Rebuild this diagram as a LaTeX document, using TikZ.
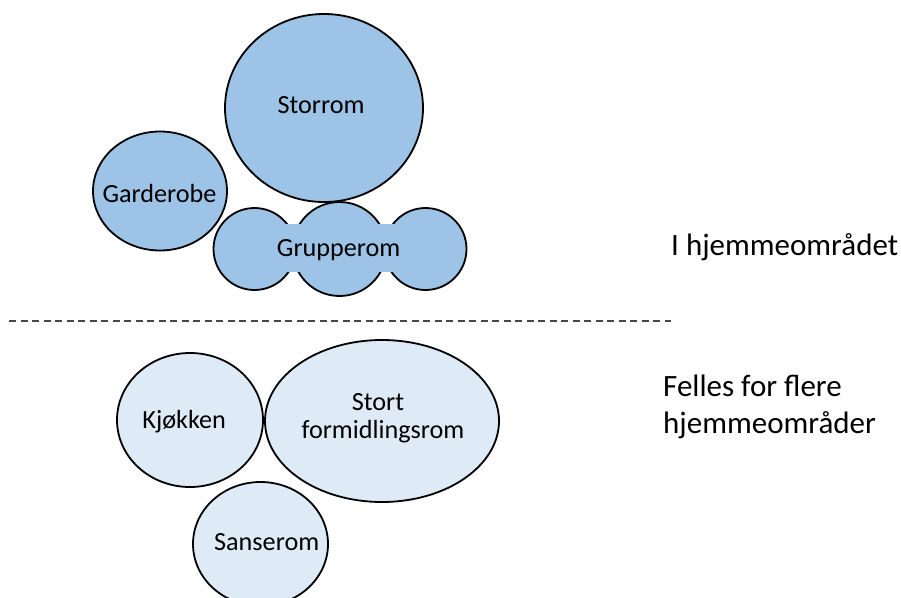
\documentclass[tikz,border=0pt]{standalone}
\usepackage{fontspec}
\setmainfont{Carlito}
\usetikzlibrary{shapes.geometric}
\definecolor{topfill}{HTML}{9DC3E6}
\definecolor{botfill}{HTML}{DEEBF7}
\tikzset{
  room/.style={ellipse, draw=black, line width=1.8pt, inner sep=0pt, outer sep=0pt},
  toproom/.style={room, fill=topfill},
  botroom/.style={room, fill=botfill},
  roomtxt/.style={inner sep=0pt, font=\fontsize{26.2}{28}\selectfont, text=black},
  sidetxt/.style={inner sep=0pt, anchor=base west, font=\fontsize{31}{36.6}\selectfont, text=black, align=left},
  divider/.style={line width=1.2pt, gray!55!black, dash pattern=on 7pt off 4.5pt}
}
\begin{document}
\begin{tikzpicture}[x=1pt,y=-1pt]
\useasboundingbox (0,0) rectangle (901,597);
% top area
\node[toproom, minimum width=198pt, minimum height=188pt] (storrom) at (324,108) {};
\node[roomtxt, anchor=base] (storromt) at (321,113.3) {Storrom};
\node[toproom, minimum width=134pt, minimum height=119pt] (garderobe) at (160,191) {};
\node[roomtxt, anchor=base] (garderobet) at (159.5,202.7) {Garderobe};
\node[toproom, minimum width=82pt, minimum height=82pt] (grpl) at (254.5,249) {};
\node[toproom, minimum width=94pt, minimum height=94pt] (grpm) at (339.5,249) {};
\node[toproom, minimum width=82pt, minimum height=82pt] (grpr) at (425.5,249) {};
\node[fill=topfill, inner sep=0pt, minimum width=160pt, minimum height=48pt] (grpband) at (340,248) {};
\node[roomtxt, anchor=base] (grupperomt) at (338.7,256.7) {Grupperom};
% divider
\coordinate (dl) at (9,321);
\coordinate (dr) at (671,321);
\draw[divider] (dl) -- (dr);
% bottom area
\node[botroom, minimum width=146pt, minimum height=134pt] (kjokken) at (190,420) {};
\node[roomtxt, anchor=base] (kjokkent) at (184.2,428.3) {Kjøkken};
\node[botroom, minimum width=234pt, minimum height=162pt] (stort) at (382,421) {};
\node[roomtxt, anchor=base] (stortt1) at (378,410.7) {Stort};
\node[roomtxt, anchor=base] (stortt2) at (383,438.3) {formidlingsrom};
\node[botroom, minimum width=135pt, minimum height=124pt] (sanserom) at (260.5,544) {};
\node[roomtxt, anchor=base] (sanseromt) at (266.7,550.7) {Sanserom};
% side labels
\node[sidetxt] (hjem) at (671,255) {I hjemmeområdet};
\node[sidetxt] (felles1) at (663,396.7) {Felles for flere};
\node[sidetxt] (felles2) at (663,433.3) {hjemmeområder};
\end{tikzpicture}
\end{document}
